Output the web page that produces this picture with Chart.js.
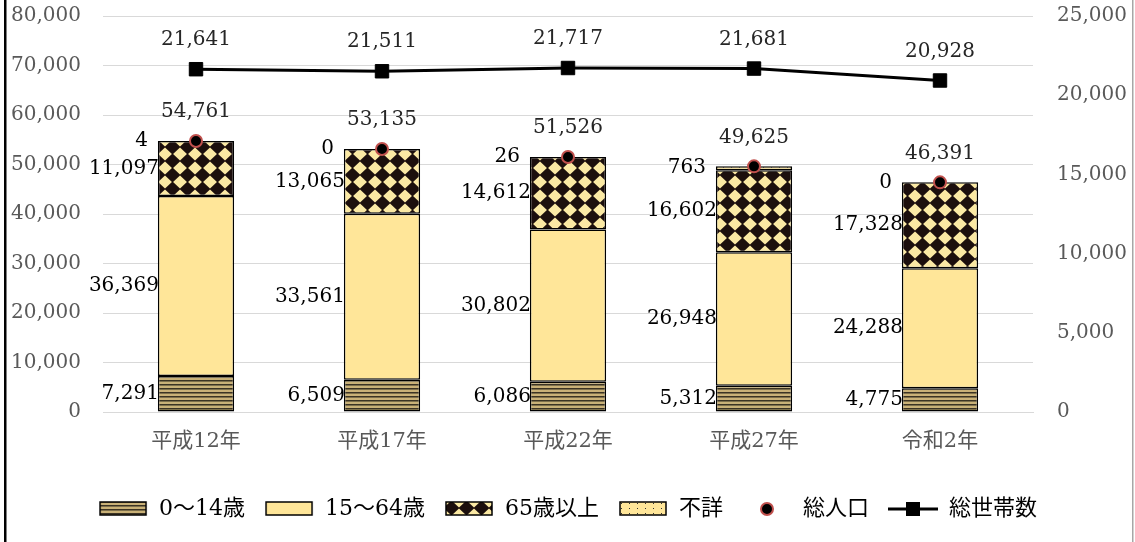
<!DOCTYPE html>
<html lang="ja">
<head>
<meta charset="UTF-8">
<title>人口・世帯数の推移</title>
<script src="https://cdn.jsdelivr.net/npm/chart.js"></script>
<style>
  body { margin: 0; background: #fff; }
  canvas { display: block; }
</style>
</head>
<body>
<canvas id="popChart" width="1135" height="542"></canvas>
<script>
// 年齢3区分別人口と総人口・総世帯数
const years = ['平成12年', '平成17年', '平成22年', '平成27年', '令和2年'];
const age0to14 = [7291, 6509, 6086, 5312, 4775];
const age15to64 = [36369, 33561, 30802, 26948, 24288];
const age65plus = [11097, 13065, 14612, 16602, 17328];
const ageUnknown = [4, 0, 26, 763, 0];
const totalPop = [54761, 53135, 51526, 49625, 46391];
const households = [21641, 21511, 21717, 21681, 20928];

const serif = '"DejaVu Serif", "Noto Sans CJK JP", serif';
Chart.defaults.font.family = serif;

// small helper for pattern tiles / legend icons
function makeCanvas(w, h, draw) {
  const c = document.createElement('canvas');
  c.width = w; c.height = h;
  draw(c.getContext('2d'), w, h);
  return c;
}
const ctx = document.getElementById('popChart').getContext('2d');

const stripeTile = makeCanvas(4, 4, (g, w, h) => {
  g.fillStyle = '#c9b177'; g.fillRect(0, 0, w, h);
  g.fillStyle = '#3b3324'; g.fillRect(0, 0, w, 1);
  g.fillStyle = '#7d6f4b'; g.fillRect(0, 1, w, 1);
});
const diamondTile = makeCanvas(15, 14, (g, w, h) => {
  g.fillStyle = '#fbe9a4'; g.fillRect(0, 0, w, h);
  g.fillStyle = '#1c0f0d';
  g.beginPath();
  g.moveTo(w / 2, -0.5); g.lineTo(w + 0.5, h / 2); g.lineTo(w / 2, h + 0.5); g.lineTo(-0.5, h / 2);
  g.closePath(); g.fill();
});
const dotTile = makeCanvas(8, 5, (g, w, h) => {
  g.fillStyle = '#ffe699'; g.fillRect(0, 0, w, h);
  g.fillStyle = '#333'; g.fillRect(3, 2, 1, 1);
});
const stripeFill = ctx.createPattern(stripeTile, 'repeat');
const diamondFill = ctx.createPattern(diamondTile, 'repeat');
const dotFill = ctx.createPattern(dotTile, 'repeat');

function boxIcon(fill) {
  return makeCanvas(50, 16, (g) => {
    g.fillStyle = g.createPattern(fill, 'repeat');
    g.fillRect(2, 1, 46, 13);
    g.strokeStyle = '#000'; g.lineWidth = 1.5;
    g.strokeRect(2, 1, 46, 13);
  });
}
const legendIcons = [
  boxIcon(stripeTile),
  makeCanvas(50, 16, (g) => {
    g.fillStyle = '#ffe699'; g.fillRect(2, 1, 46, 13);
    g.strokeStyle = '#000'; g.lineWidth = 1.5; g.strokeRect(2, 1, 46, 13);
  }),
  boxIcon(diamondTile),
  boxIcon(dotTile),
  makeCanvas(50, 16, (g) => {
    g.beginPath(); g.arc(25, 8, 6, 0, Math.PI * 2);
    g.fillStyle = '#000'; g.fill();
    g.strokeStyle = '#c0504d'; g.lineWidth = 2; g.stroke();
  }),
  makeCanvas(50, 16, (g) => {
    g.fillStyle = '#000';
    g.fillRect(0, 6.5, 50, 3);
    g.fillRect(18, 1, 14, 14);
  })
];

// value labels: segments to the left of each bar, points above the marker
const valueLabels = {
  id: 'valueLabels',
  afterDatasetsDraw(chart) {
    const c = chart.ctx;
    c.save();
    c.font = '20px ' + serif;
    c.textBaseline = 'middle';
    chart.data.datasets.forEach((ds, i) => {
      const meta = chart.getDatasetMeta(i);
      meta.data.forEach((el, j) => {
        const text = ds.data[j].toLocaleString('en-US');
        if (meta.type === 'bar') {
          const left = el.x - el.width / 2;
          c.fillStyle = '#000';
          c.textAlign = 'right';
          const x = ds.label === '不詳' ? left - 10 : left + 1;
          c.fillText(text, x, (el.y + el.base) / 2);
        } else {
          c.fillStyle = '#262626';
          c.textAlign = 'center';
          c.fillText(text, el.x, el.y - 29);
        }
      });
    });
    c.restore();
  }
};

// outer frame lines
const frame = {
  id: 'frame',
  afterDraw(chart) {
    const c = chart.ctx;
    c.save();
    c.fillStyle = '#000';
    c.fillRect(4, 0, 2.5, chart.height);
    c.fillStyle = '#a6a6a6';
    c.fillRect(1132, 0, 1.5, chart.height);
    c.restore();
  }
};

const barBase = {
  type: 'bar',
  yAxisID: 'y',
  stack: 'pop',
  borderColor: '#000',
  borderWidth: 1.5,
  borderSkipped: false,
  barPercentage: 0.41,
  categoryPercentage: 1,
  order: 1
};

const tickFmt = (v) => v.toLocaleString('en-US');

new Chart(ctx, {
  data: {
    labels: years,
    datasets: [
      { ...barBase, label: '0～14歳', data: age0to14, backgroundColor: stripeFill },
      { ...barBase, label: '15～64歳', data: age15to64, backgroundColor: '#ffe699' },
      { ...barBase, label: '65歳以上', data: age65plus, backgroundColor: diamondFill },
      { ...barBase, label: '不詳', data: ageUnknown, backgroundColor: dotFill },
      {
        type: 'line', label: '総人口', data: totalPop, yAxisID: 'y', order: 0,
        showLine: false, pointStyle: 'circle', pointRadius: 6, pointBorderWidth: 2,
        pointBackgroundColor: '#000', pointBorderColor: '#c0504d'
      },
      {
        type: 'line', label: '総世帯数', data: households, yAxisID: 'y2', order: 0,
        borderColor: '#000', borderWidth: 3, tension: 0,
        pointStyle: 'rect', pointRadius: 9.5, pointBorderWidth: 1,
        pointBackgroundColor: '#000', pointBorderColor: '#000'
      }
    ]
  },
  options: {
    responsive: false,
    devicePixelRatio: 1,
    animation: false,
    layout: { padding: { top: 16, bottom: 12, left: 0, right: 0 } },
    plugins: {
      tooltip: { enabled: false },
      legend: {
        position: 'bottom',
        labels: {
          usePointStyle: true,
          pointStyleWidth: 50,
          padding: 19,
          color: '#000',
          font: { size: 22 },
          generateLabels: (chart) => chart.data.datasets.map((ds, i) => ({
            text: ds.label,
            pointStyle: legendIcons[i],
            datasetIndex: i,
            hidden: false,
            lineWidth: 0,
            strokeStyle: 'rgba(0,0,0,0)',
            fillStyle: 'rgba(0,0,0,0)',
            fontColor: '#000'
          }))
        }
      }
    },
    scales: {
      x: {
        stacked: true,
        grid: { display: false, drawTicks: false },
        border: { color: '#d9d9d9' },
        ticks: { color: '#595959', font: { size: 21 }, padding: 17 },
        afterFit: (s) => { s.height = 67; }
      },
      y: {
        stacked: true,
        min: 0, max: 80000,
        ticks: { stepSize: 10000, color: '#595959', font: { size: 20 }, padding: 0, callback: tickFmt },
        // invisible tick marks keep the labels clear of the plot
        grid: { color: '#d9d9d9', drawTicks: true, tickLength: 22, tickColor: 'rgba(0,0,0,0)' },
        border: { display: false },
        afterFit: (s) => { s.width = 103; }
      },
      y2: {
        position: 'right',
        min: 0, max: 25000,
        ticks: { stepSize: 5000, color: '#595959', font: { size: 20 }, padding: 0, callback: tickFmt },
        grid: { drawOnChartArea: false, drawTicks: true, tickLength: 24, tickColor: 'rgba(0,0,0,0)', color: 'rgba(0,0,0,0)' },
        border: { display: false },
        afterFit: (s) => { s.width = 102; }
      }
    }
  },
  plugins: [valueLabels, frame]
});
</script>
</body>
</html>
